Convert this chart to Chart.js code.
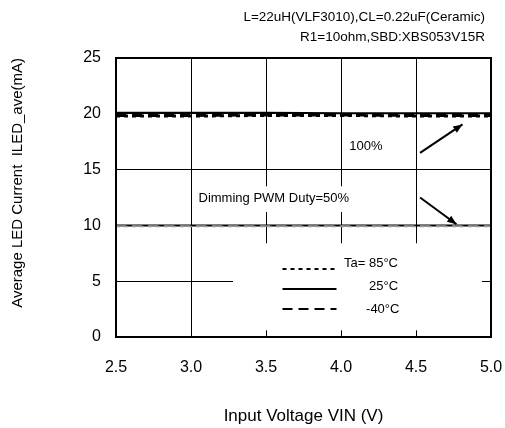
<!DOCTYPE html>
<html>
<head>
<meta charset="utf-8">
<script src="https://cdn.jsdelivr.net/npm/chart.js@4/dist/chart.umd.min.js"></script>
<style>
  html, body { margin: 0; padding: 0; background: #fff; }
  #wrap { width: 505px; height: 428px; }
</style>
</head>
<body>
<div id="wrap"><canvas id="c" width="505" height="428"></canvas></div>
<script>
// ---- data ----
const vin = [2.5, 3.0, 3.5, 4.0, 4.5, 5.0];
const iled100_85C  = [19.8, 19.8, 19.85, 19.85, 19.8, 19.8];
const iled100_25C  = [20.1, 20.1, 20.1, 20.05, 20.05, 20.05];
const iled100_m40C = [19.85, 19.85, 19.9, 19.9, 19.85, 19.85];
const iled50_85C   = [9.9, 9.9, 9.9, 9.9, 9.9, 9.9];
const iled50_25C   = [10.0, 10.0, 10.0, 10.0, 10.0, 10.0];
const iled50_m40C  = [9.95, 9.95, 9.95, 9.95, 9.95, 9.95];
const xTicks = [2.5, 3.0, 3.5, 4.0, 4.5, 5.0];
const yTicks = [0, 5, 10, 15, 20, 25];
const legendLabels = ['Ta= 85\u00B0C', '25\u00B0C', '-40\u00B0C'];
const conditionText = ['L=22uH(VLF3010),CL=0.22uF(Ceramic)', 'R1=10ohm,SBD:XBS053V15R'];

const pts = arr => vin.map((v, i) => ({x: v, y: arr[i]}));
const FONT = '"Liberation Sans", Arial, sans-serif';

const short = [4, 4], long = [10, 6];
const datasets = [
  {data: pts(iled100_85C),  borderDash: short, borderWidth: 3, borderColor: '#000'},
  {data: pts(iled100_m40C), borderDash: long,  borderWidth: 3, borderColor: '#000'},
  {data: pts(iled100_25C),  borderDash: [],    borderWidth: 2, borderColor: '#000'},
  {data: pts(iled50_85C),   borderDash: short, borderWidth: 1.5, borderColor: '#999'},
  {data: pts(iled50_m40C),  borderDash: long,  borderWidth: 1.5, borderColor: '#999'},
  {data: pts(iled50_25C),   borderDash: [],    borderWidth: 2, borderColor: '#000'}
].map(d => Object.assign({pointRadius: 0, fill: false, tension: 0}, d));

const annot = {
  id: 'annot',
  afterDatasetsDraw(chart) {
    const ctx = chart.ctx, xs = chart.scales.x, ys = chart.scales.y, a = chart.chartArea;
    const X = v => xs.getPixelForValue(v), Y = v => ys.getPixelForValue(v);
    ctx.save();
    // white boxes
    ctx.fillStyle = '#fff';
    ctx.fillRect(X(3.28), Y(8.4), X(4.94) - X(3.28), Y(0.6) - Y(8.4));
    ctx.fillRect(X(3.03), Y(13.5), X(4.04) - X(3.03), Y(11.2) - Y(13.5));
    // texts
    ctx.fillStyle = '#000';
    ctx.font = '13px ' + FONT;
    ctx.textBaseline = 'middle';
    ctx.textAlign = 'left';
    ctx.fillText('100%', X(4.055), Y(17.1));
    ctx.fillText('Dimming PWM Duty=50%', X(3.05), Y(12.4));
    // arrows
    const arrow = (x0, y0, x1, y1) => {
      const px0 = X(x0), py0 = Y(y0), px1 = X(x1), py1 = Y(y1);
      ctx.strokeStyle = '#000'; ctx.lineWidth = 2; ctx.setLineDash([]);
      ctx.beginPath(); ctx.moveTo(px0, py0); ctx.lineTo(px1, py1); ctx.stroke();
      const ang = Math.atan2(py1 - py0, px1 - px0), L = 10, w = 0.38;
      ctx.beginPath();
      ctx.moveTo(px1, py1);
      ctx.lineTo(px1 - L * Math.cos(ang - w), py1 - L * Math.sin(ang - w));
      ctx.lineTo(px1 - L * Math.cos(ang + w), py1 - L * Math.sin(ang + w));
      ctx.closePath(); ctx.fillStyle = '#000'; ctx.fill();
    };
    arrow(4.527, 16.5, 4.81, 19.05);
    arrow(4.527, 12.5, 4.77, 10.1);
    // legend
    const dashes = [short, [], long];
    const lineY = [6.1, 4.3, 2.5];
    const textY = [6.55, 4.5, 2.5];
    const textX = [4.02, 4.187, 4.167];
    ctx.lineWidth = 2;
    ctx.strokeStyle = '#000';
    for (let i = 0; i < 3; i++) {
      ctx.setLineDash(dashes[i]);
      ctx.beginPath();
      ctx.moveTo(X(3.61), Y(lineY[i]));
      ctx.lineTo(X(3.97), Y(lineY[i]));
      ctx.stroke();
    }
    ctx.setLineDash([]);
    ctx.fillStyle = '#000';
    ctx.font = '13px ' + FONT;
    for (let i = 0; i < 3; i++) ctx.fillText(legendLabels[i], X(textX[i]), Y(textY[i]));
    // frame
    ctx.lineWidth = 2;
    ctx.strokeStyle = '#000';
    ctx.strokeRect(a.left, a.top, a.right - a.left, a.bottom - a.top);
    // condition text
    ctx.font = '13.5px ' + FONT;
    ctx.textAlign = 'right';
    ctx.fillText(conditionText[0], 485, 17);
    ctx.fillText(conditionText[1], 485, 37);
    ctx.restore();
  }
};

new Chart(document.getElementById('c'), {
  type: 'line',
  data: {datasets},
  plugins: [annot],
  options: {
    responsive: false,
    animation: false,
    layout: {padding: {left: 0, right: 14, top: 58, bottom: 0}},
    plugins: {legend: {display: false}, tooltip: {enabled: false}},
    scales: {
      x: {
        type: 'linear', min: 2.5, max: 5.0,
        afterBuildTicks: s => { s.ticks = xTicks.map(v => ({value: v})); },
        afterFit: s => { s.height = 91; s.paddingLeft = 0; s.paddingRight = 0; },
        grid: {color: '#000', lineWidth: 1, drawTicks: false},
        border: {display: true, color: '#000', width: 2},
        ticks: {color: '#000', font: {family: FONT, size: 16}, padding: 21,
                callback: v => v.toFixed(1)},
        title: {display: true, text: 'Input Voltage VIN (V)', color: '#000',
                font: {family: FONT, size: 17}, padding: {bottom: 1}}
      },
      y: {
        min: 0, max: 25,
        afterBuildTicks: s => { s.ticks = yTicks.map(v => ({value: v})); },
        afterFit: s => { s.width = 116; s.paddingTop = 0; s.paddingBottom = 0; },
        grid: {color: '#000', lineWidth: 1, drawTicks: false},
        border: {display: true, color: '#000', width: 2},
        ticks: {color: '#000', font: {family: FONT, size: 16}, padding: 15},
        title: {display: true, text: 'Average LED Current  ILED_ave(mA)', color: '#000',
                align: 'end', font: {family: FONT, size: 15}, padding: {top: 9}}
      }
    }
  }
});
</script>
</body>
</html>
